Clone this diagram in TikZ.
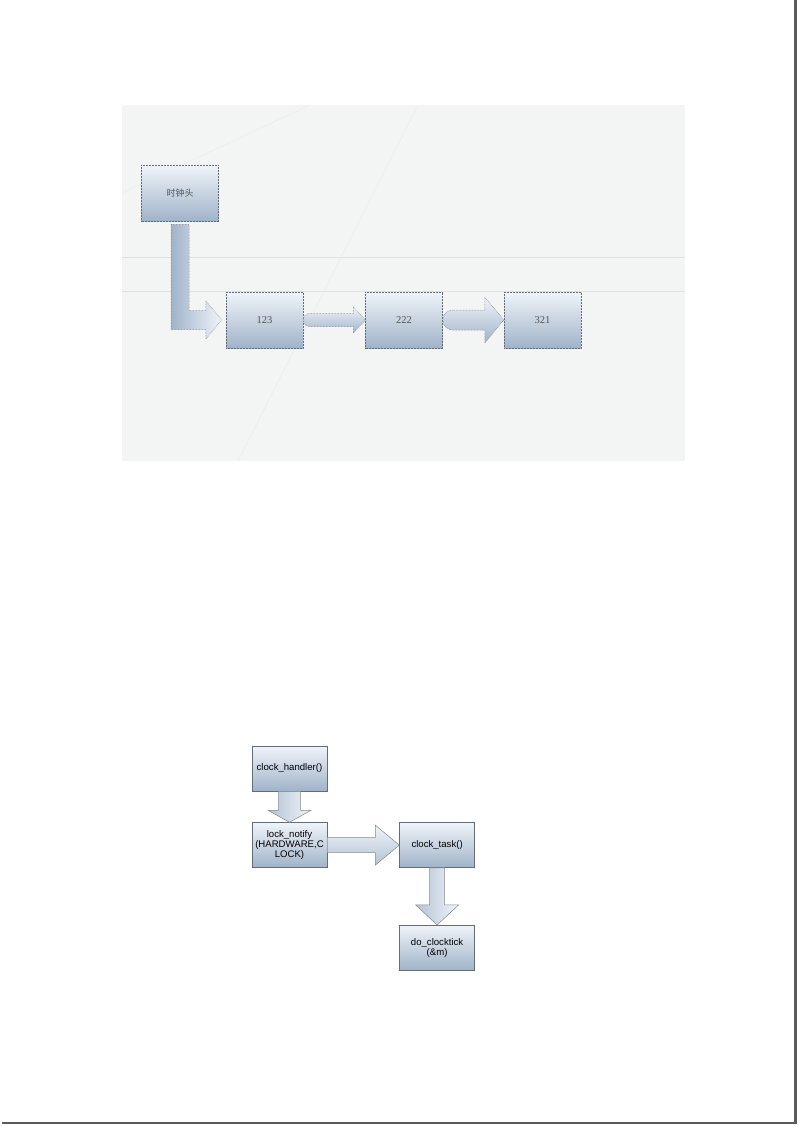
\documentclass[tikz,border=0pt]{standalone}
\usepackage{fontspec}
\setmainfont{Liberation Serif}
\newfontfamily\cjk{Noto Sans CJK SC}
\newfontfamily\arial{Liberation Sans}
\usetikzlibrary{calc,positioning}
\definecolor{boxtop}{RGB}{240,244,249}
\definecolor{boxbot}{RGB}{160,179,201}
\definecolor{edgegray}{RGB}{100,108,118}
\definecolor{panelbg}{RGB}{243,245,244}
\definecolor{panelline}{RGB}{222,226,226}
\definecolor{labelgray}{RGB}{85,85,85}
\definecolor{pageshadow}{RGB}{90,90,90}
% right pointing block arrow, round tail at the box edge
\newcommand{\roundarrowright}[6]{%
    \path[#1] let \p1 = (#2.east), \p2 = (#3.west) in
        (\x1+#4, \y1+#4) -- (\x2-#6, \y1+#4) -- (\x2-#6, \y1+#5) -- (\x2, \y1)
        -- (\x2-#6, \y1-#5) -- (\x2-#6, \y1-#4) -- (\x1+#4, \y1-#4)
        arc[start angle=270, end angle=90, radius=#4] -- cycle;
}
% right pointing block arrow, flat tail
\newcommand{\fatarrowright}[6]{%
    \path[#1] let \p1 = (#2.east), \p2 = (#3.west) in
        (\x1, \y1+#4) -- (\x2-#6, \y1+#4) -- (\x2-#6, \y1+#5) -- (\x2, \y1)
        -- (\x2-#6, \y1-#5) -- (\x2-#6, \y1-#4) -- (\x1, \y1-#4) -- cycle;
}
% downward block arrow
\newcommand{\fatarrowdown}[6]{%
    \path[#1] let \p1 = (#2.south), \p2 = (#3.north) in
        (\x1-#4, \y1) -- (\x1-#4, \y2+#6) -- (\x1-#5, \y2+#6) -- (\x1, \y2)
        -- (\x1+#5, \y2+#6) -- (\x1+#4, \y2+#6) -- (\x1+#4, \y1) -- cycle;
}

\begin{document}
\begin{tikzpicture}[
            x=1pt, y=-1pt,
            topbox/.style = {draw=edgegray, densely dotted, line width=0.5pt,
                top color=boxtop, bottom color=boxbot,
                minimum width=77pt, minimum height=56pt, inner sep=0pt,
                text=labelgray, font=\fontsize{10.5}{12}\selectfont,
            },
            lowbox/.style = {draw=edgegray, line width=0.6pt,
                top color=boxtop, bottom color=boxbot,
                minimum width=75pt, minimum height=45pt, inner sep=1pt,
                align=center, font=\arial\fontsize{9.6}{10.2}\selectfont,
            },
            toparrow/.style = {draw=edgegray, densely dotted, line width=0.5pt},
            lowarrow/.style = {draw=edgegray!80, line width=0.5pt},
        ]
    \useasboundingbox (0,0) rectangle (798,1126);

    % upper screenshot panel
    \path[fill=panelbg] (122,105) rectangle (685,461);
    \draw[panelline, line width=1pt] (122,257) -- (685,257) (122,291) -- (685,291);
    \draw[panelline!60, line width=0.6pt] (418,105) -- (238,461) (310,105) -- (122,193);

    \node[topbox, font=\cjk\fontsize{9}{10}\selectfont] (clockhead) at (180,193) {时钟头};
    \node[topbox] (n123) at (264.5,320) {123};
    \node[topbox, right=62pt of n123] (n222) {222};
    \node[topbox, right=61pt of n222] (n321) {321};

    \path[toparrow, left color=boxbot, right color=boxtop]
        let \p1 = ($(clockhead.south)+(0,3)$), \p2 = ($(n123.west)+(-4,0)$) in
        (\x1-9pt, \y1) -- (\x1-9pt, \y2-9.5pt) -- (\x2-16pt, \y2-9.5pt)
        -- (\x2-16pt, \y2-19pt) -- (\x2, \y2) -- (\x2-16pt, \y2+19pt)
        -- (\x2-16pt, \y2+9.5pt) -- (\x1+9pt, \y2+9.5pt) -- (\x1+9pt, \y1) -- cycle;
    \roundarrowright{toparrow, top color=boxtop, bottom color=boxbot}{n123}{n222}{6.5pt}{13pt}{12pt}
    \roundarrowright{toparrow, top color=boxtop, bottom color=boxbot}{n222}{n321}{10pt}{23pt}{19pt}

    % lower flow chart
    \node[lowbox] (handler) at (289.5,768.5) {clock\_handler()};
    \node[lowbox, below=31pt of handler] (notify) {lock\_notify\\(HARDWARE,C\\LOCK)};
    \node[lowbox, right=72pt of notify] (task) {clock\_task()};
    \node[lowbox, below=57pt of task] (tick) {do\_clocktick\\(\&m)};

    \fatarrowdown{lowarrow, left color=boxbot!80, right color=boxtop}{handler}{notify}{11pt}{21.5pt}{12pt}
    \fatarrowright{lowarrow, top color=boxtop, bottom color=boxbot!80}{notify}{task}{7.5pt}{20pt}{24pt}
    \fatarrowdown{lowarrow, left color=boxbot!80, right color=boxtop}{task}{tick}{7.5pt}{21.5pt}{20pt}

    % page edge shadow
    \draw[pageshadow, line width=2.5pt] (795.5,0) -- (795.5,1123) -- (2,1123);
\end{tikzpicture}
\end{document}
